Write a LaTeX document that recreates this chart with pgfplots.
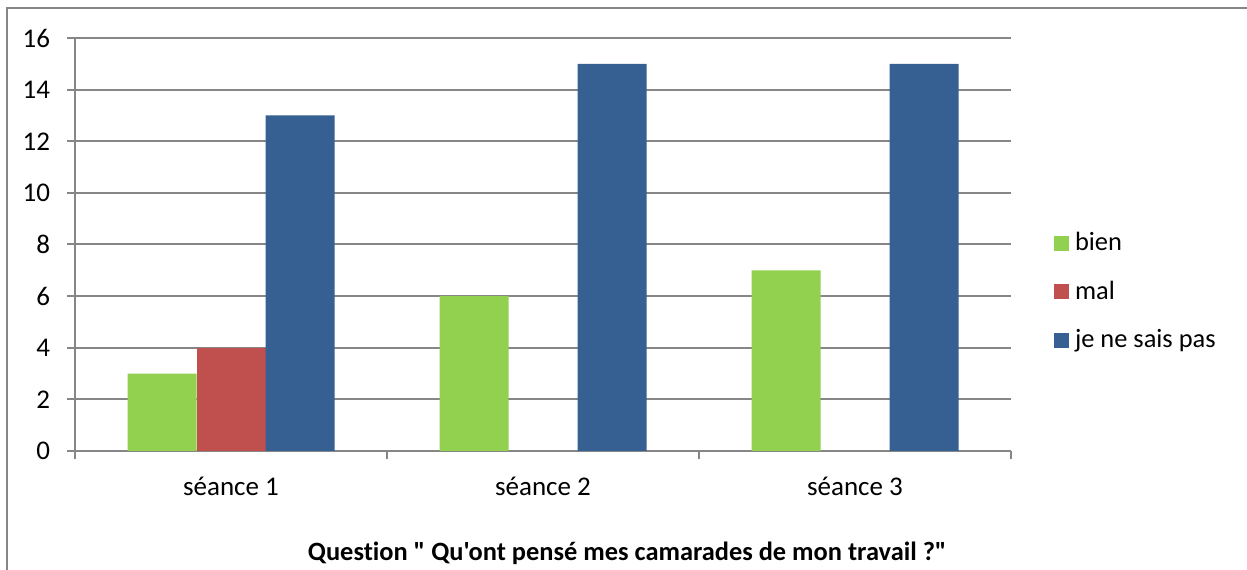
\documentclass[border=0pt]{standalone}
\usepackage{fontspec}
\setmainfont{Carlito}[Ligatures={TeXOff,NoCommon}]
\usepackage{pgfplots}
\pgfplotsset{compat=1.18}
\definecolor{cbien}{RGB}{146,208,80}
\definecolor{cmal}{RGB}{192,80,77}
\definecolor{cjnsp}{RGB}{55,96,146}
\definecolor{cgrid}{RGB}{134,134,134}
\begin{document}
\begin{tikzpicture}
\useasboundingbox (0,0) rectangle (623.5bp,285bp);
\draw[cgrid, line width=1bp] (3.5bp,0) -- (3.5bp,281bp) -- (623.5bp,281bp);
\begin{axis}[
  at={(37.5bp,59.5bp)}, anchor=south west,
  scale only axis, width=468bp, height=206.5bp,
  ybar=0pt, bar width=34.5bp,
  xmin=-0.5, xmax=2.5, ymin=0, ymax=16,
  ytick={0,2,...,16},
  xtick={-0.5,0.5,1.5,2.5}, xticklabels={},
  extra x ticks={0,1,2},
  extra x tick labels={séance 1,séance 2,séance 3},
  extra x tick style={major tick length=0pt, grid=none,
    xticklabel style={yshift=-9.5bp}},
  axis lines*=left,
  axis line style={cgrid, line width=1bp},
  ymajorgrids, grid style={cgrid, line width=1bp},
  tick align=outside, major tick length=4bp,
  tick style={cgrid, line width=1bp},
  tick label style={font=\fontsize{13.5bp}{16bp}\selectfont, text=black},
  yticklabel style={xshift=-5bp},
  /pgf/number format/assume math mode=true,
  title={Question " Qu'ont pensé mes camarades de mon travail ?"},
  every axis title/.style={at={(0.59,-0.266)}, anchor=base, inner sep=0pt,
    font=\bfseries\fontsize{13.2bp}{15.6bp}\selectfont},
  legend style={at={(1.046,0.380)}, anchor=west, draw=none, fill=none,
    inner sep=0pt, outer sep=0pt, row sep=14.25bp,
    font=\fontsize{13.2bp}{15.6bp}\selectfont,
    nodes={inner sep=0pt, text height=7bp, text depth=2.5bp},
    /tikz/every odd column/.append style={column sep=3bp}},
  legend cell align=left,
  legend image code/.code={\fill[#1, draw=none] (0bp,-2.25bp) rectangle (7.5bp,5.25bp);},
]
\addplot[fill=cbien, draw=none] coordinates {(0,3) (1,6) (2,7)};
\addplot[fill=cmal, draw=none] coordinates {(0,4)};
\addplot[fill=cjnsp, draw=none] coordinates {(0,13) (1,15) (2,15)};
\legend{bien, mal, je ne sais pas}
\end{axis}
\end{tikzpicture}
\end{document}
